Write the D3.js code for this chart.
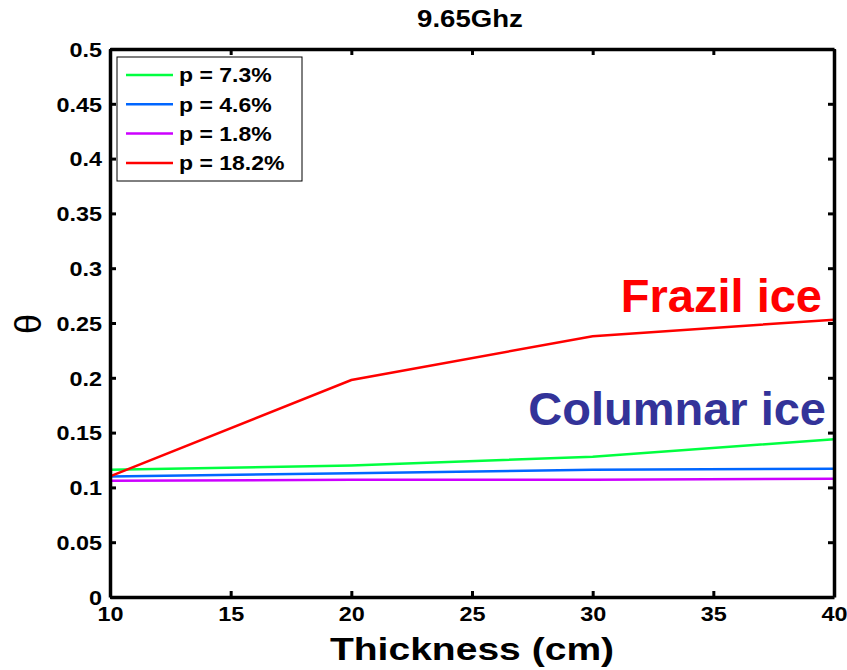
<!DOCTYPE html>
<html>
<head>
<meta charset="utf-8">
<script src="https://cdn.jsdelivr.net/npm/d3@7"></script>
<style>
  body { margin: 0; background: #fff; }
  text { font-family: "Liberation Sans", Arial, sans-serif; font-weight: bold; }
</style>
</head>
<body>
<div id="chart"></div>
<script>
// thickness values (cm)
const thickness = [10, 20, 30, 40];
// theta for each porosity
const p73 = [0.116, 0.120, 0.128, 0.144];
const p46 = [0.110, 0.113, 0.116, 0.117];
const p18 = [0.106, 0.107, 0.107, 0.108];
const p182 = [0.110, 0.198, 0.238, 0.253];
const seriesNames = ["p = 7.3%", "p = 4.6%", "p = 1.8%", "p = 18.2%"];
const seriesColors = ["#00ff40", "#0066ff", "#cc00ff", "#ff0000"];
const xTicks = [10, 15, 20, 25, 30, 35, 40];
const yTicks = [0, 0.05, 0.1, 0.15, 0.2, 0.25, 0.3, 0.35, 0.4, 0.45, 0.5];

const width = 847, height = 670;
const margin = { left: 110, right: 13, top: 49, bottom: 73 };
const stretch = 1.17; // the original figure text is a bit wide

const svg = d3.select("#chart").append("svg")
  .attr("width", width)
  .attr("height", height);

const x = d3.scaleLinear().domain([10, 40]).range([margin.left, width - margin.right]);
const y = d3.scaleLinear().domain([0, 0.5]).range([height - margin.bottom, margin.top]);

const allSeries = [p73, p46, p18, p182];

// lines
const line = d3.line().x((d, i) => x(thickness[i])).y(d => y(d));
allSeries.forEach((s, k) => {
  svg.append("path")
    .datum(s)
    .attr("fill", "none")
    .attr("stroke", seriesColors[k])
    .attr("stroke-width", 2.5)
    .attr("d", line);
});

// axes (ticks inward, mirrored on top/right)
const tickLen = 6;
const fmt = d => String(+d.toFixed(2));
const gx = svg.append("g")
  .attr("transform", `translate(0,${y(0)})`)
  .call(d3.axisBottom(x).tickValues(xTicks).tickSizeInner(-tickLen).tickSizeOuter(0).tickPadding(10));
const gy = svg.append("g")
  .attr("transform", `translate(${x(10)},0)`)
  .call(d3.axisLeft(y).tickValues(yTicks).tickFormat(fmt).tickSizeInner(-tickLen).tickSizeOuter(0).tickPadding(8));
const gt = svg.append("g")
  .attr("transform", `translate(0,${y(0.5)})`)
  .call(d3.axisTop(x).tickValues(xTicks).tickSizeInner(-tickLen).tickSizeOuter(0).tickFormat(""));
const gr = svg.append("g")
  .attr("transform", `translate(${x(40)},0)`)
  .call(d3.axisRight(y).tickValues(yTicks).tickSizeInner(-tickLen).tickSizeOuter(0).tickFormat(""));

[gx, gy, gt, gr].forEach(g => {
  g.selectAll(".domain").attr("stroke", "#000").attr("stroke-width", 3.5);
  g.selectAll(".tick line").attr("stroke", "#000").attr("stroke-width", 3);
  g.selectAll("text").attr("fill", "#000").style("font-size", "20px")
    .style("font-family", '"Liberation Sans", Arial, sans-serif').style("font-weight", "bold");
});
gx.selectAll(".tick text").attr("dy", "0.71em").attr("transform", `scale(${stretch},1)`);
gy.selectAll(".tick text").attr("dy", "0.36em")
  .attr("x", -8 / stretch)
  .attr("transform", `scale(${stretch},1)`);

// helper for stretched standalone text
function label(px, py, str, size, anchor, sx) {
  return svg.append("text")
    .attr("transform", `translate(${px},${py}) scale(${sx},1)`)
    .attr("text-anchor", anchor)
    .style("font-size", size + "px")
    .text(str);
}

// title
label((x(10) + x(40)) / 2 - 2, 27, "9.65Ghz", 23, "middle", 1.2);

// x label
label((x(10) + x(40)) / 2, 660, "Thickness (cm)", 32, "middle", 1.22);

// y label
svg.append("text")
  .attr("transform", `translate(41,${y(0.25) + 1}) rotate(-90)`)
  .attr("text-anchor", "middle")
  .style("font-size", "36px")
  .style("font-weight", "normal")
  .text("θ");

// annotations
label(822, 312, "Frazil ice", 47, "end", 1).attr("fill", "#ff0000");
label(826, 425, "Columnar ice", 47, "end", 1).attr("fill", "#333399");

// legend
const legend = svg.append("g").attr("transform", "translate(117,57)");
legend.append("rect")
  .attr("width", 185).attr("height", 124)
  .attr("fill", "#fff").attr("stroke", "#000").attr("stroke-width", 1);
seriesNames.forEach((name, k) => {
  const ly = 18 + k * 29.3;
  legend.append("line")
    .attr("x1", 9).attr("x2", 56).attr("y1", ly).attr("y2", ly)
    .attr("stroke", seriesColors[k]).attr("stroke-width", 2.5);
  legend.append("text")
    .attr("transform", `translate(62,${ly}) scale(1.15,1)`)
    .attr("dy", "0.36em")
    .style("font-size", "20px")
    .text(name);
});
</script>
</body>
</html>
